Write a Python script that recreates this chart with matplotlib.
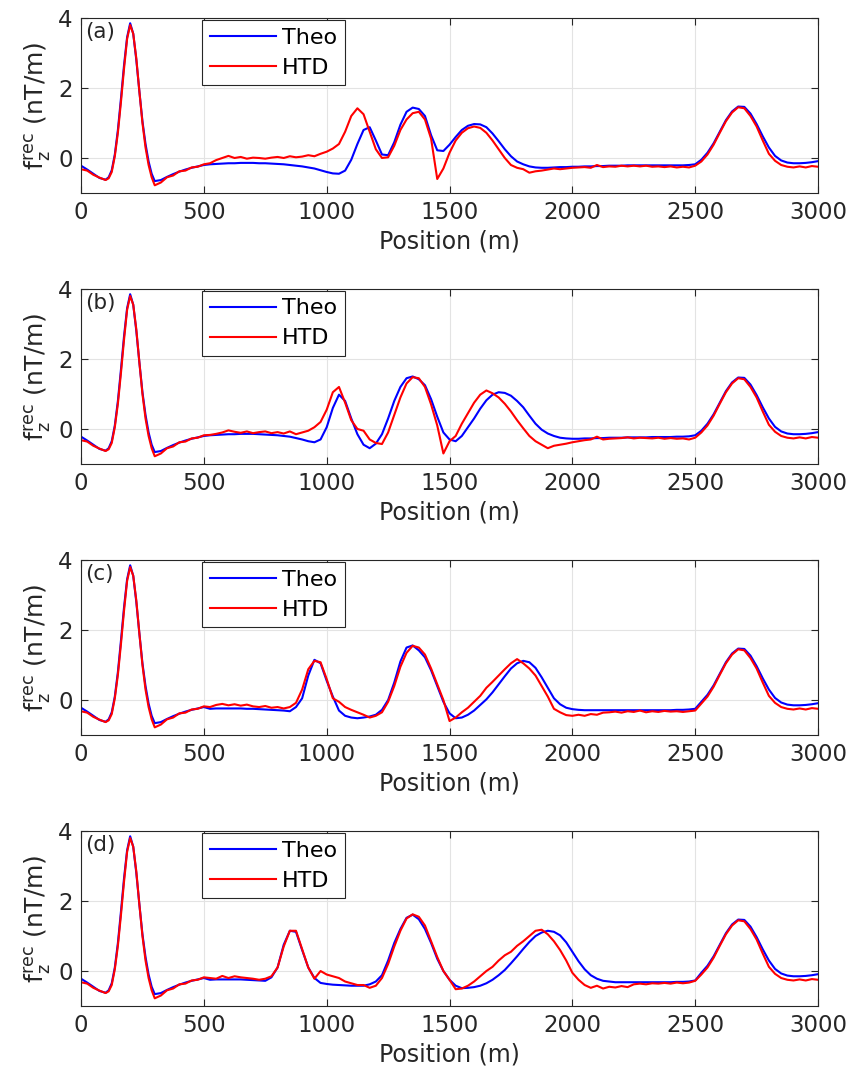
import numpy as np
import matplotlib.pyplot as plt

# positions (m): finer around the first peak, then every 25 m
pos_left = [0, 25, 50, 75, 100, 112.5, 125, 137.5, 150, 162.5, 175, 187.5,
            200, 212.5, 225, 237.5, 250, 262.5, 275, 287.5, 300, 325, 350,
            375, 400, 425, 450, 475, 500]
pos_mid = np.arange(525, 2501, 25)
pos_right = np.arange(2525, 3001, 25)

# shared start (0-500 m) and end (2525-3000 m) of the profiles
theo_left = [-0.22, -0.33, -0.45, -0.57, -0.62, -0.55, -0.35, 0.1, 0.8, 1.7,
             2.65, 3.45, 3.85, 3.55, 2.8, 1.9, 1.05, 0.4, -0.1, -0.45,
             -0.66, -0.63, -0.54, -0.46, -0.39, -0.33, -0.28, -0.24, -0.2]
htd_left = [-0.32, -0.36, -0.48, -0.56, -0.63, -0.58, -0.4, 0.05, 0.72, 1.6,
            2.55, 3.4, 3.8, 3.55, 2.85, 1.9, 1.0, 0.3, -0.2, -0.55,
            -0.78, -0.7, -0.55, -0.5, -0.38, -0.36, -0.27, -0.25, -0.18]
theo_right = [-0.05, 0.15, 0.42, 0.75, 1.08, 1.33, 1.47, 1.46,
              1.27, 0.97, 0.62, 0.3, 0.06, -0.07, -0.13, -0.15,
              -0.15, -0.14, -0.12, -0.09]
htd_right = [-0.1, 0.1, 0.38, 0.72, 1.05, 1.3, 1.45, 1.42,
             1.2, 0.9, 0.5, 0.12, -0.08, -0.2, -0.25, -0.27,
             -0.24, -0.27, -0.23, -0.25]

# middle part (525-2500 m) of each panel
theo_a = [-0.18, -0.17, -0.16, -0.15, -0.15, -0.14, -0.14, -0.14,
          -0.15, -0.15, -0.16, -0.17, -0.18, -0.2, -0.22, -0.24,
          -0.27, -0.3, -0.35, -0.4, -0.44, -0.45, -0.36, -0.05,
          0.4, 0.8, 0.88, 0.5, 0.1, 0.08, 0.45, 0.95,
          1.32, 1.44, 1.4, 1.2, 0.65, 0.22, 0.2, 0.38,
          0.6, 0.8, 0.92, 0.97, 0.96, 0.88, 0.7, 0.48,
          0.25, 0.05, -0.1, -0.18, -0.24, -0.27, -0.28, -0.28,
          -0.27, -0.26, -0.26, -0.25, -0.25, -0.24, -0.24, -0.23,
          -0.23, -0.22, -0.22, -0.22, -0.21, -0.21, -0.21, -0.21,
          -0.21, -0.21, -0.21, -0.21, -0.21, -0.21, -0.2, -0.18]
htd_a = [-0.15, -0.06, 0.0, 0.06, 0.0, 0.03, -0.02, 0.01,
         0.0, -0.02, 0.01, 0.03, 0.0, 0.05, 0.02, 0.04,
         0.08, 0.05, 0.12, 0.18, 0.27, 0.4, 0.75, 1.2,
         1.42, 1.25, 0.75, 0.25, 0.0, 0.02, 0.35, 0.8,
         1.1, 1.28, 1.32, 1.1, 0.55, -0.6, -0.3, 0.15,
         0.5, 0.72, 0.85, 0.9, 0.86, 0.72, 0.5, 0.25,
         0.0, -0.2, -0.28, -0.32, -0.42, -0.38, -0.36, -0.33,
         -0.3, -0.32, -0.3, -0.28, -0.27, -0.26, -0.28, -0.2,
         -0.26, -0.24, -0.25, -0.22, -0.24, -0.22, -0.24, -0.22,
         -0.25, -0.24, -0.26, -0.24, -0.27, -0.25, -0.27, -0.22]

theo_b = [-0.18, -0.17, -0.16, -0.15, -0.15, -0.14, -0.14, -0.14,
          -0.15, -0.16, -0.17, -0.18, -0.2, -0.22, -0.26, -0.3,
          -0.35, -0.38, -0.3, 0.05, 0.6, 0.98, 0.8, 0.3,
          -0.15, -0.45, -0.55, -0.42, -0.15, 0.3, 0.8, 1.2,
          1.45, 1.5, 1.42, 1.25, 0.85, 0.35, -0.1, -0.3,
          -0.35, -0.2, 0.05, 0.3, 0.58, 0.82, 0.98, 1.05,
          1.03, 0.95, 0.8, 0.62, 0.38, 0.15, -0.02, -0.13,
          -0.2, -0.25, -0.27, -0.28, -0.28, -0.27, -0.27, -0.26,
          -0.26, -0.25, -0.25, -0.25, -0.24, -0.24, -0.24, -0.24,
          -0.23, -0.23, -0.23, -0.23, -0.22, -0.22, -0.21, -0.18]
htd_b = [-0.17, -0.14, -0.1, -0.04, -0.08, -0.11, -0.07, -0.12,
         -0.09, -0.07, -0.12, -0.09, -0.13, -0.07, -0.15, -0.1,
         -0.05, 0.05, 0.2, 0.55, 1.05, 1.2, 0.75, 0.25,
         0.0, -0.05, -0.3, -0.4, -0.43, -0.1, 0.4, 0.9,
         1.3, 1.48, 1.45, 1.2, 0.7, 0.1, -0.7, -0.35,
         -0.2, 0.15, 0.45, 0.75, 0.98, 1.1, 1.02, 0.9,
         0.72, 0.5, 0.25, 0.02, -0.2, -0.35, -0.45, -0.55,
         -0.48, -0.45, -0.42, -0.38, -0.35, -0.32, -0.3, -0.22,
         -0.3, -0.28, -0.27, -0.26, -0.24, -0.27, -0.25, -0.26,
         -0.27, -0.25, -0.28, -0.26, -0.28, -0.27, -0.3, -0.25]

theo_c = [-0.25, -0.24, -0.24, -0.24, -0.24, -0.24, -0.25, -0.25,
          -0.26, -0.27, -0.28, -0.29, -0.3, -0.32, -0.2, 0.05,
          0.7, 1.15, 1.05, 0.55, 0.1, -0.3, -0.45, -0.5,
          -0.52, -0.5, -0.47, -0.42, -0.28, 0.0, 0.5, 1.1,
          1.5, 1.56, 1.42, 1.22, 0.85, 0.4, -0.05, -0.38,
          -0.52, -0.5, -0.42, -0.3, -0.14, 0.02, 0.22, 0.45,
          0.68, 0.9, 1.05, 1.12, 1.08, 0.92, 0.65, 0.35,
          0.05, -0.12, -0.22, -0.26, -0.28, -0.29, -0.29, -0.29,
          -0.29, -0.29, -0.29, -0.29, -0.29, -0.29, -0.29, -0.29,
          -0.29, -0.29, -0.29, -0.29, -0.28, -0.28, -0.27, -0.25]
htd_c = [-0.2, -0.14, -0.11, -0.15, -0.12, -0.16, -0.13, -0.18,
         -0.2, -0.17, -0.22, -0.2, -0.24, -0.2, -0.08, 0.3,
         0.88, 1.12, 1.08, 0.6, 0.05, -0.05, -0.2, -0.28,
         -0.35, -0.42, -0.5, -0.45, -0.35, -0.05, 0.4, 0.95,
         1.35, 1.55, 1.5, 1.3, 0.9, 0.45, 0.0, -0.6,
         -0.5, -0.35, -0.22, -0.05, 0.12, 0.35, 0.52, 0.7,
         0.88, 1.05, 1.17, 1.05, 0.9, 0.7, 0.4, 0.1,
         -0.25, -0.35, -0.43, -0.45, -0.42, -0.45, -0.4, -0.42,
         -0.36, -0.35, -0.33, -0.36, -0.32, -0.34, -0.3, -0.35,
         -0.32, -0.34, -0.31, -0.33, -0.32, -0.34, -0.32, -0.3]

theo_d = [-0.25, -0.24, -0.24, -0.24, -0.24, -0.24, -0.25, -0.26,
          -0.27, -0.28, -0.18, 0.1, 0.75, 1.15, 1.12, 0.6,
          0.1, -0.2, -0.34, -0.37, -0.39, -0.4, -0.41, -0.42,
          -0.42, -0.42, -0.38, -0.3, -0.12, 0.3, 0.8, 1.2,
          1.52, 1.61, 1.48, 1.2, 0.8, 0.35, 0.0, -0.25,
          -0.42, -0.49, -0.48, -0.46, -0.42, -0.35, -0.25, -0.12,
          0.03, 0.22, 0.42, 0.63, 0.83, 1.0, 1.1, 1.15,
          1.12, 1.02, 0.82, 0.55, 0.28, 0.05, -0.12, -0.22,
          -0.28, -0.3, -0.32, -0.32, -0.32, -0.32, -0.32, -0.32,
          -0.32, -0.32, -0.32, -0.32, -0.31, -0.31, -0.3, -0.27]
htd_d = [-0.2, -0.22, -0.14, -0.2, -0.15, -0.18, -0.2, -0.22,
         -0.25, -0.22, -0.15, 0.1, 0.7, 1.15, 1.15, 0.62,
         0.1, -0.22, 0.0, -0.1, -0.15, -0.2, -0.3, -0.35,
         -0.4, -0.4, -0.48, -0.42, -0.2, 0.2, 0.7, 1.15,
         1.5, 1.62, 1.55, 1.3, 0.85, 0.4, 0.0, -0.25,
         -0.52, -0.5, -0.42, -0.3, -0.15, 0.0, 0.12, 0.3,
         0.45, 0.55, 0.72, 0.85, 1.0, 1.15, 1.18, 1.05,
         0.85, 0.6, 0.3, -0.05, -0.25, -0.4, -0.48, -0.42,
         -0.5, -0.45, -0.47, -0.43, -0.46, -0.38, -0.36, -0.38,
         -0.35, -0.36, -0.34, -0.36, -0.33, -0.35, -0.33, -0.28]

panel_labels = ['(a)', '(b)', '(c)', '(d)']
theo_mid = [theo_a, theo_b, theo_c, theo_d]
htd_mid = [htd_a, htd_b, htd_c, htd_d]

plt.rcParams['font.family'] = 'DejaVu Sans'
plt.rcParams['mathtext.fontset'] = 'dejavusans'

fig = plt.figure(figsize=(8.53, 10.77), dpi=100)
bottoms = [0.8208, 0.5692, 0.3175, 0.0659]
dark = '#262626'
pos = np.concatenate([pos_left, pos_mid, pos_right])

for i in range(4):
    ax = fig.add_axes([0.095, bottoms[i], 0.864, 0.1625])
    theo = np.concatenate([theo_left, theo_mid[i], theo_right])
    htd = np.concatenate([htd_left, htd_mid[i], htd_right])
    ax.plot(pos, theo, color='#0000ff', lw=1.5, label='Theo')
    ax.plot(pos, htd, color='#ff0000', lw=1.5, label='HTD')

    ax.set_xlim(0, 3000)
    ax.set_ylim(-1, 4)
    ax.set_xticks(range(0, 3001, 500))
    ax.set_yticks([0, 2, 4])
    ax.grid(True, color='#e3e3e3', lw=0.8)
    ax.set_axisbelow(True)
    ax.tick_params(direction='in', top=True, right=True, labelsize=16.5,
                   colors=dark, length=5, width=0.8, pad=6)
    for s in ax.spines.values():
        s.set_color(dark)
        s.set_linewidth(0.8)

    ax.set_xlabel('Position (m)', fontsize=17, color=dark, labelpad=4)
    ax.set_ylabel(r'$\mathregular{f_z^{rec}}$ (nT/m)', fontsize=18, color=dark, labelpad=3)
    ax.text(0.006, 0.975, panel_labels[i], transform=ax.transAxes, va='top',
            ha='left', fontsize=15.5, color=dark)

    leg = ax.legend(loc='upper left', bbox_to_anchor=(0.164, 0.99), fontsize=16,
                    fancybox=False, framealpha=1, edgecolor=dark, handlelength=3.0,
                    borderaxespad=0, labelspacing=0.45, borderpad=0.35,
                    handletextpad=0.25)
    leg.get_frame().set_linewidth(0.8)

fig.savefig('out.png', dpi=100)
